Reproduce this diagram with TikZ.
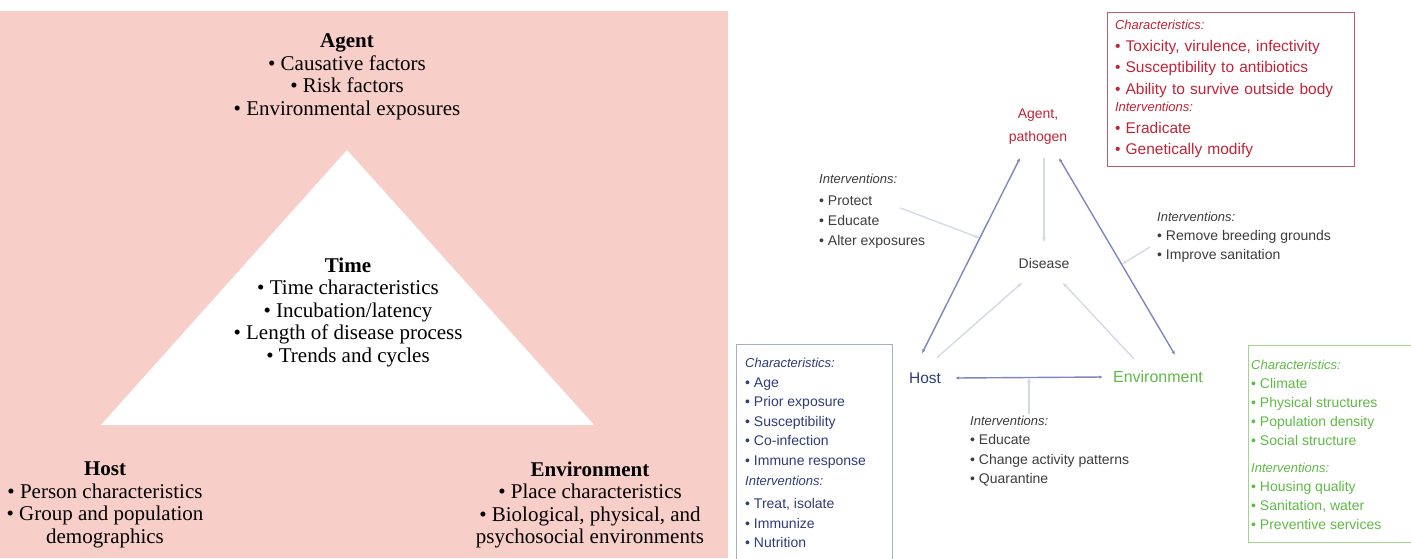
\documentclass[tikz,border=0pt]{standalone}
\usepackage{fontspec}
\setmainfont{Liberation Serif}
\newfontfamily\sanslab{Liberation Sans}
\usetikzlibrary{arrows.meta,calc}

\definecolor{pinkbg}{RGB}{248,206,200}
\definecolor{linecol}{RGB}{125,135,190}
\definecolor{softcol}{RGB}{212,218,228}
\definecolor{redtxt}{RGB}{195,35,55}
\definecolor{redline}{RGB}{195,90,100}
\definecolor{hosttxt}{RGB}{45,60,120}
\definecolor{hostline}{RGB}{165,175,195}
\definecolor{envtxt}{RGB}{95,185,70}
\definecolor{envline}{RGB}{160,215,140}
\definecolor{greytxt}{RGB}{60,60,60}

\newcommand{\dotitem}{\textbullet\ }
\newcommand{\ivhead}[1]{{\itshape\fontsize{13}{20}\selectfont #1}}

\tikzset{
  leftlab/.style={align=center, inner sep=0pt, font=\fontsize{21}{22.5}\selectfont},
  toplab/.style={align=center, inner sep=2pt, font=\sanslab\fontsize{14}{23}\selectfont},
  sidetext/.style={align=left, inner sep=2pt, anchor=west, font=\sanslab\fontsize{14}{20}\selectfont},
  tri/.style={draw=linecol, line width=1.4pt, <->, >={Latex[length=4pt,width=3.5pt]}},
  soft/.style={draw=softcol, line width=1.4pt, ->, >={Latex[length=5pt,width=4pt]}}
}

\begin{document}
\begin{tikzpicture}[x=1pt,y=-1pt]

\useasboundingbox (0,0) rectangle (1411,558);
\clip (0,0) rectangle (1411,558);

\fill[pinkbg] (0,11) rectangle (728,558);
\fill[white] (347,150) -- (101,425) -- (594,425) -- cycle;

\node[leftlab] (agentL) at (347,77) {\textbf{Agent}\\\dotitem Causative factors\\\dotitem Risk factors\\\dotitem Environmental exposures};
\node[leftlab] (timeL) at (348,312) {\textbf{Time}\\\dotitem Time characteristics\\\dotitem Incubation/latency\\\dotitem Length of disease process\\\dotitem Trends and cycles};
\node[leftlab] (hostL) at (105,505) {\textbf{Host}\\\dotitem Person characteristics\\\dotitem Group and population\\demographics};
\node[leftlab] (envL) at (590,505) {\textbf{Environment}\\\dotitem Place characteristics\\\dotitem Biological, physical, and\\psychosocial environments};

\node[toplab, text=redtxt] (agentR) at (1038,127) {Agent,\\pathogen};
\node[toplab, text=greytxt] (disR) at (1044,263) {Disease};
\node[toplab, text=hosttxt, font=\sanslab\fontsize{15.5}{18}\selectfont] (hostR) at (925,378) {Host};
\node[toplab, text=envtxt, font=\sanslab\fontsize{16}{18}\selectfont] (envR) at (1158,377) {Environment};

\node[draw=redline, line width=1pt, text=redtxt, text width=231pt, minimum height=154pt, inner xsep=8pt, align=left, font=\sanslab\fontsize{15.5}{21.5}\selectfont] (agentBox) at (1230.5,89) {\ivhead{Characteristics:}\\\dotitem Toxicity, virulence, infectivity\\\dotitem Susceptibility to antibiotics\\\dotitem Ability to survive outside body\\[-4pt]\ivhead{Interventions:}\\\dotitem Eradicate\\\dotitem Genetically modify};

\draw[hostline, line width=1pt] (736,570) |- (892,344) -- (892,570);
\node[sidetext, text=hosttxt, font=\sanslab\fontsize{14}{19.6}\selectfont] (hostBox) at (743,453) {\ivhead{Characteristics:}\\\dotitem Age\\\dotitem Prior exposure\\\dotitem Susceptibility\\\dotitem Co-infection\\\dotitem Immune response\\\ivhead{Interventions:}\\[4pt]\dotitem Treat, isolate\\\dotitem Immunize\\\dotitem Nutrition};

\draw[envline, line width=1pt] (1248,345) rectangle (1420,542);
\node[sidetext, text=envtxt, font=\sanslab\fontsize{14}{19}\selectfont] (envBox) at (1249,445) {\ivhead{Characteristics:}\\\dotitem Climate\\\dotitem Physical structures\\\dotitem Population density\\\dotitem Social structure\\[8pt]\ivhead{Interventions:}\\\dotitem Housing quality\\\dotitem Sanitation, water\\\dotitem Preventive services};

\node[sidetext, text=greytxt] (ivL) at (817,211) {\ivhead{Interventions:}\\[2pt]\dotitem Protect\\\dotitem Educate\\\dotitem Alter exposures};
\node[sidetext, text=greytxt, font=\sanslab\fontsize{14}{19}\selectfont] (ivR) at (1155,237) {\ivhead{Interventions:}\\\dotitem Remove breeding grounds\\\dotitem Improve sanitation};
\node[sidetext, text=greytxt, font=\sanslab\fontsize{14}{19.5}\selectfont] (ivB) at (968,451) {\ivhead{Interventions:}\\\dotitem Educate\\\dotitem Change activity patterns\\\dotitem Quarantine};

\coordinate (ahT) at ([xshift=-18pt,yshift=-11pt]agentR.south);
\coordinate (aeT) at ([xshift=21pt,yshift=-11pt]agentR.south);
\coordinate (adT) at ([xshift=6pt,yshift=-11pt]agentR.south);
\coordinate (ahB) at ([xshift=-3pt,yshift=17pt]hostR.north);
\coordinate (aeB) at ([xshift=17pt,yshift=14pt]envR.north);
\coordinate (heL) at ([xshift=12pt]hostR.east);
\coordinate (heR) at ([xshift=-8pt]envR.west);
\coordinate (heM) at ($(heL)!0.5!(heR)$);

\draw[soft] (adT) -- ([yshift=13pt]disR.north);
\draw[soft] ([xshift=-6pt,yshift=13pt]hostR.north east) -- ([xshift=6pt,yshift=-12pt]disR.south west);
\draw[soft] ([xshift=23pt,yshift=10pt]envR.north west) -- ([xshift=-9pt,yshift=-12pt]disR.south east);
\draw[soft] ([xshift=-27pt,yshift=3pt]ivL.east) -- ($(ahT)!0.41!(ahB)$);
\draw[soft] ([xshift=-5pt,yshift=-10pt]ivR.west) -- ($(aeT)!0.54!(aeB)$);
\draw[soft] (heM |- ivB.north) -- (heM);

\draw[tri] (ahT) -- (ahB);
\draw[tri] (aeT) -- (aeB);
\draw[tri] (heL) -- (heR);

\end{tikzpicture}
\end{document}
